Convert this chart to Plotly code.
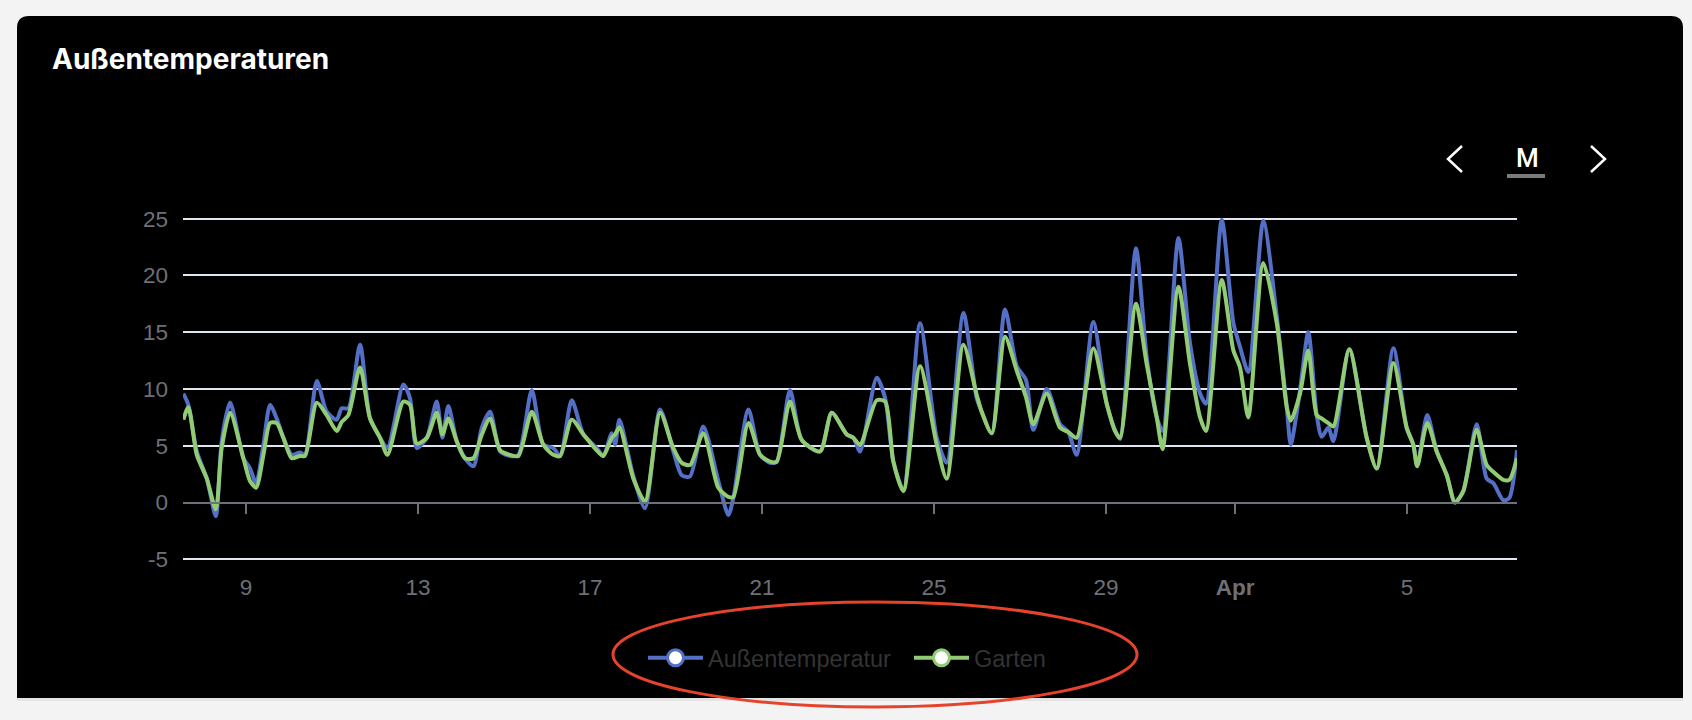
import pandas as pd
import plotly.graph_objects as go

# ---------------- data ----------------
BASE_DATE = "2025-03-07"
# hours since BASE_DATE 00:00
HOURS = [13.0, 15.8, 20.5, 26.1, 31.1, 34.4, 39.1, 46.5, 50.2, 53.6,
         57.7, 61.4, 65.1, 68.8, 73.5, 78.1, 80.9, 87.5, 93.0, 98.6,
         101.4, 105.1, 111.6, 117.2, 122.8, 126.9, 135.8, 139.5, 143.3, 148.9,
         154.4, 157.6, 160.9, 165.6, 170.2, 174.9, 179.6, 184.2, 189.8, 195.3,
         200.0, 207.5, 213.9, 219.5, 223.3, 229.8, 236.3, 243.7, 247.4, 252.1,
         254.0, 256.4, 264.2, 270.7, 279.1, 286.5, 291.2, 295.8, 303.2, 311.6,
         317.2, 320.0, 328.4, 334.9, 340.5, 344.2, 351.6, 358.2, 368.4, 374.9,
         383.3, 387.0, 390.7, 400.0, 404.7, 409.3, 414.9, 424.2, 433.5, 439.1,
         448.4, 455.8, 458.6, 464.2, 471.6, 478.2, 483.3, 487.4, 494.9, 502.3,
         507.0, 511.6, 520.9, 528.4, 533.0, 535.8, 544.7, 550.7, 556.3, 559.6,
         568.4, 574.9, 580.5, 583.8, 592.6, 599.1, 602.8, 607.4, 615.8, 623.3,
         628.9, 631.1, 636.3, 640.9, 645.6, 648.4, 652.1, 654.9, 663.8, 673.5,
         679.1, 688.4, 695.8, 699.5, 701.7, 707.3, 712.6, 718.2, 722.8, 727.4,
         734.9, 740.5, 744.2, 749.8, 753.1, 757.4]

AUSSEN = [9.6, 8.6, 4.5, 2.1, -1.2, 5.4, 8.8, 3.9, 3.0, 1.7,
          5.1, 8.6, 7.4, 5.7, 4.2, 4.4, 4.2, 10.7, 8.0, 7.3,
          8.3, 8.3, 13.9, 7.4, 5.7, 4.8, 10.4, 9.2, 4.8, 5.7,
          8.9, 5.7, 8.5, 5.4, 3.9, 3.2, 6.6, 8.0, 4.5, 4.1,
          4.2, 9.9, 5.1, 4.8, 4.1, 9.0, 6.0, 4.8, 4.1, 6.1,
          5.1, 7.3, 2.3, -0.5, 8.2, 4.5, 2.4, 2.3, 6.7, 1.9,
          -1.1, 0.4, 8.2, 4.2, 3.5, 3.6, 9.9, 5.5, 4.5, 7.9,
          6.0, 5.7, 4.5, 11.0, 9.2, 3.6, 1.1, 15.8, 5.7, 3.5,
          16.7, 9.2, 8.0, 6.1, 17.0, 12.0, 10.8, 6.4, 10.0, 6.9,
          6.2, 4.2, 15.9, 8.7, 6.4, 5.6, 22.4, 12.8, 7.5, 6.3,
          23.3, 14.0, 9.6, 8.7, 24.9, 15.8, 13.7, 11.5, 24.8, 16.4,
          8.4, 5.1, 9.9, 15.0, 7.7, 5.8, 6.6, 5.4, 13.5, 5.7,
          3.0, 13.6, 6.6, 5.1, 3.2, 7.7, 4.5, 2.4, 0.0, 1.0,
          6.9, 2.1, 1.7, 0.2, 0.4, 4.6]

GARTEN = [7.3, 8.4, 4.2, 2.1, -0.6, 4.8, 7.9, 3.9, 1.9, 1.3,
          4.2, 7.0, 7.0, 5.7, 3.9, 4.1, 4.1, 8.8, 7.7, 6.3,
          7.1, 7.7, 11.9, 7.4, 5.7, 4.2, 8.9, 8.6, 5.2, 5.7,
          7.9, 6.0, 7.4, 5.4, 3.9, 3.9, 6.0, 7.4, 4.6, 4.2,
          4.1, 8.0, 5.1, 4.2, 4.1, 7.3, 6.0, 4.6, 4.1, 5.7,
          6.0, 6.6, 2.1, 0.1, 7.9, 4.8, 3.5, 3.3, 6.1, 1.3,
          0.5, 0.5, 7.0, 4.2, 3.6, 3.6, 8.9, 5.5, 4.5, 7.9,
          6.0, 5.7, 5.1, 9.0, 8.9, 3.6, 1.0, 12.0, 5.1, 2.1,
          13.9, 9.5, 8.0, 6.1, 14.6, 11.6, 9.3, 6.9, 9.6, 6.6,
          6.2, 5.7, 13.6, 8.7, 6.3, 5.7, 17.5, 12.2, 7.5, 4.7,
          19.0, 12.2, 7.5, 6.3, 19.6, 13.4, 11.9, 7.5, 21.1, 15.8,
          8.4, 7.2, 9.6, 13.4, 7.7, 7.4, 7.0, 6.7, 13.5, 5.7,
          3.0, 12.3, 6.6, 5.1, 3.2, 7.0, 4.5, 2.4, 0.0, 1.0,
          6.4, 3.3, 2.7, 2.0, 2.0, 3.9]

SERIES_NAMES = ["Außentemperatur", "Garten"]
SERIES_COLORS = ["#5470c6", "#91cc75"]

X_RANGE_HOURS = [12.8, 757.4]
X_TICK_DATES = ["2025-03-09", "2025-03-13", "2025-03-17", "2025-03-21",
                "2025-03-25", "2025-03-29", "2025-04-01", "2025-04-05"]
X_TICK_TEXT = ["9", "13", "17", "21", "25", "29", "<b>Apr</b>", "5"]
Y_TICKS = [-5, 0, 5, 10, 15, 20, 25]
Y_TICK_TEXT = ["-5", "0", "5", "10", "15", "20", "25"]
Y_MIN, Y_MAX = -5, 25

TITLE = "Außentemperaturen"
PERIOD_LABEL = "M"

# ---------------- layout geometry ----------------
W, H = 1692, 720
Y_PAD = 0.15  # small padding so the edge grid lines (25 / -5) are drawn
ML, MR, MT, MB = 183, 175, 217, 159
PW = W - ML - MR
PH = H - MT - MB
y_range = [Y_MIN - Y_PAD, Y_MAX + Y_PAD]


def px(x):
    return (x - ML) / PW


def py(y):
    return (H - MB - y) / PH


base = pd.Timestamp(BASE_DATE)
times = base + pd.to_timedelta(HOURS, unit="h")
x_range = [base + pd.Timedelta(hours=h) for h in X_RANGE_HOURS]

AXIS_GRAY = "#6E7079"
GRID = "#E0E6F1"
SANS = "Liberation Sans, Arial, sans-serif"
TICK_FONT = dict(family=SANS, size=22.5, color=AXIS_GRAY)

fig = go.Figure()
for name, vals, col in zip(SERIES_NAMES, [AUSSEN, GARTEN], SERIES_COLORS):
    fig.add_trace(go.Scatter(
        x=times, y=vals, mode="lines", name=name, showlegend=False,
        line=dict(color=col, width=4, shape="spline", smoothing=0.7),
        hoverinfo="skip",
    ))

# legend entries (line + hollow circle like the original)
for name, col in zip(SERIES_NAMES, SERIES_COLORS):
    fig.add_trace(go.Scatter(
        x=[None], y=[None], xaxis="x2", mode="lines+markers", name=name,
        line=dict(color=col, width=4),
        marker=dict(size=17, color="white", line=dict(color=col, width=3)),
    ))


def card_path(x0, y0, x1, y1, r):
    # rounded top corners, square bottom corners
    return (f"M{px(x0 + r)},{py(y0)} L{px(x1 - r)},{py(y0)} "
            f"Q{px(x1)},{py(y0)} {px(x1)},{py(y0 + r)} "
            f"L{px(x1)},{py(y1)} L{px(x0)},{py(y1)} "
            f"L{px(x0)},{py(y0 + r)} Q{px(x0)},{py(y0)} {px(x0 + r)},{py(y0)} Z")


def pline(points):
    return "M" + " L".join(f"{px(a)},{py(b)}" for a, b in points)


shapes = [
    # faint shadow under the card
    dict(type="rect", xref="paper", yref="paper",
         x0=px(17), x1=px(1683), y0=py(698), y1=py(701),
         fillcolor="#e4e4e4", line=dict(width=0), layer="below"),
    # card background
    dict(type="path", xref="paper", yref="paper", path=card_path(17, 16, 1683, 698, 12),
         fillcolor="#000000", line=dict(width=0), layer="below"),
    # period navigation chevrons
    dict(type="path", xref="paper", yref="paper",
         path=pline([(1462, 146), (1448, 159), (1462, 172)]),
         line=dict(color="white", width=2.5)),
    dict(type="path", xref="paper", yref="paper",
         path=pline([(1591, 146), (1605, 159), (1591, 172)]),
         line=dict(color="white", width=2.5)),
    # underline below "M"
    dict(type="line", xref="paper", yref="paper",
         x0=px(1507), x1=px(1545), y0=py(176), y1=py(176),
         line=dict(color="#7a7a7a", width=4)),
    # red hand-drawn ellipse around the legend
    dict(type="circle", xref="paper", yref="paper",
         x0=px(613), x1=px(1137), y0=py(602), y1=py(707),
         line=dict(color="#e5432c", width=3), fillcolor="rgba(0,0,0,0)"),
]

annotations = [
    dict(text=f"<b>{TITLE}</b>", xref="paper", yref="paper", x=px(50), y=py(59),
         xanchor="left", yanchor="middle", showarrow=False,
         font=dict(family="Inter, Roboto, sans-serif", size=28, color="white")),
    dict(text=PERIOD_LABEL, xref="paper", yref="paper", x=px(1527), y=py(158),
         xanchor="center", yanchor="middle", showarrow=False,
         font=dict(family="Roboto, sans-serif", size=26, color="white", weight=500)),
]

fig.update_layout(
    width=W, height=H,
    margin=dict(l=ML, r=MR, t=MT, b=MB, pad=0),
    paper_bgcolor="#f3f3f3",
    plot_bgcolor="#000000",
    shapes=shapes,
    annotations=annotations,
    showlegend=True,
    legend=dict(orientation="h", x=px(643), xanchor="left", y=py(658), yanchor="middle",
                font=dict(family=SANS, size=23.5, color="#333333"),
                bgcolor="rgba(0,0,0,0)", itemwidth=55, entrywidth=196,
                traceorder="normal"),
    xaxis=dict(type="date", range=x_range, tickvals=X_TICK_DATES, ticktext=X_TICK_TEXT,
               showgrid=False, zeroline=False, showline=False, ticks="",
               tickfont=TICK_FONT, ticklabelstandoff=10, fixedrange=True),
    xaxis2=dict(type="date", range=x_range, overlaying="x", anchor="free",
                position=(0 - y_range[0]) / (y_range[1] - y_range[0]),
                tickvals=X_TICK_DATES, showticklabels=False,
                ticks="outside", ticklen=10, tickwidth=2, tickcolor=AXIS_GRAY,
                showline=True, linecolor=AXIS_GRAY, linewidth=2,
                showgrid=False, zeroline=False, fixedrange=True),
    yaxis=dict(range=y_range, tickvals=Y_TICKS, ticktext=Y_TICK_TEXT,
               showgrid=True, gridcolor=GRID, gridwidth=2,
               zeroline=False, showline=False, ticks="", tickfont=TICK_FONT,
               ticklabelstandoff=14, fixedrange=True),
    hovermode=False,
)

fig.write_html("out.html", include_plotlyjs=True,
               config={"displayModeBar": False},
               post_script="document.body.style.margin='0';document.body.style.overflow='hidden';")
